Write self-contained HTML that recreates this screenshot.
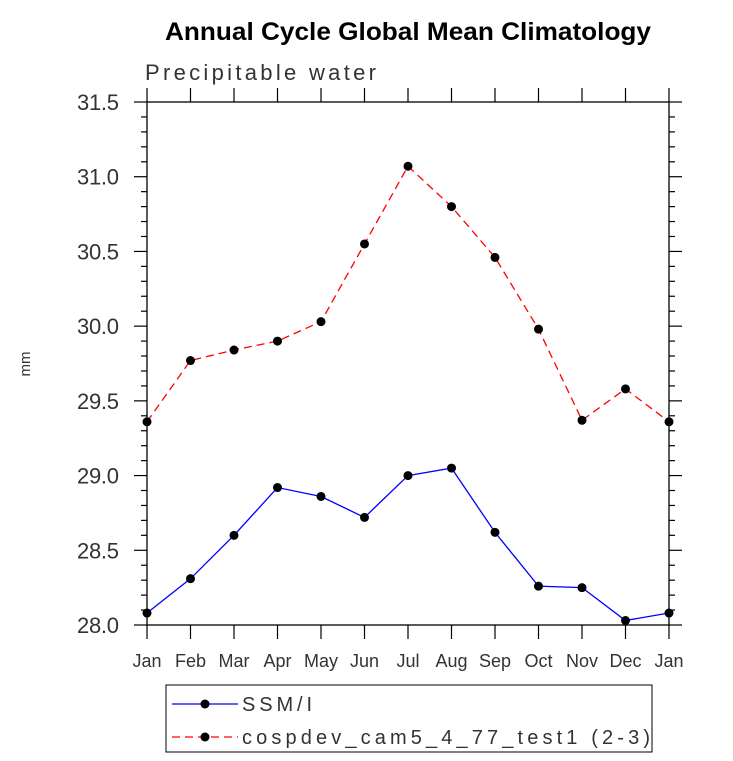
<!DOCTYPE html>
<html><head><meta charset="utf-8"><style>body{margin:0;background:#fff}svg{display:block}</style></head>
<body>
<svg id="chart" width="733" height="761" xmlns="http://www.w3.org/2000/svg" font-family="Liberation Sans, sans-serif">
<rect width="733" height="761" fill="#fff"/>
<text x="165" y="40" textLength="486" lengthAdjust="spacingAndGlyphs" font-weight="bold" font-size="25">Annual Cycle Global Mean Climatology</text>
<text x="145" y="80" textLength="231" lengthAdjust="spacing" font-size="22" fill="#333">Precipitable water</text>
<text x="30" y="364" font-size="15" fill="#333" transform="rotate(-90 30 364)" text-anchor="middle">mm</text>
<g id="axes"></g>
<g id="series"></g>
<g>
<rect x="166" y="685" width="486" height="67" fill="#fff" stroke="#000" stroke-width="1"/>
<line x1="172" y1="704" x2="238" y2="704" stroke="#0000ff" stroke-width="1.3"/>
<circle cx="205" cy="704" r="4.5" fill="#000"/>
<text x="242" y="711" textLength="70" lengthAdjust="spacing" font-size="20" fill="#333">SSM/I</text>
<line x1="172" y1="737" x2="238" y2="737" stroke="#ff0000" stroke-width="1.3" stroke-dasharray="8,5"/>
<circle cx="205" cy="737" r="4.5" fill="#000"/>
<text x="242" y="744" textLength="408" lengthAdjust="spacing" font-size="20" fill="#333">cospdev_cam5_4_77_test1 (2-3)</text>
</g>
</svg>
<script>
const months = ["Jan","Feb","Mar","Apr","May","Jun","Jul","Aug","Sep","Oct","Nov","Dec","Jan"];
const ssmiValues = [28.08,28.31,28.60,28.92,28.86,28.72,29.00,29.05,28.62,28.26,28.25,28.03,28.08];
const modelValues = [29.36,29.77,29.84,29.90,30.03,30.55,31.07,30.80,30.46,29.98,29.37,29.58,29.36];
const yTickLabels = ["28.0","28.5","29.0","29.5","30.0","30.5","31.0","31.5"];
const NS="http://www.w3.org/2000/svg";
const L=147,R=669,T=102,B=625,yMin=28,yMax=31.5;
const xs=i=>L+(R-L)*i/(months.length-1);
const ys=v=>B-(B-T)*(v-yMin)/(yMax-yMin);
function mk(tag,attrs,parent){const e=document.createElementNS(NS,tag);for(const k in attrs)e.setAttribute(k,attrs[k]);parent.appendChild(e);return e;}
const ax=document.getElementById('axes');
let f=mk('rect',{x:L,y:T,width:R-L,height:B-T,fill:'none',stroke:'#000','stroke-width':1.3},ax);


for(let k=0;k<=35;k++){const v=yMin+k*0.1;const y=ys(v);const major=k%5===0;const len=major?13:6;
 let t1=mk('line',{x1:L-len,y1:y,x2:L,y2:y,stroke:'#000','stroke-width':1.2},ax);
 
 
 let t2=mk('line',{x1:R,y1:y,x2:R+len,y2:y,stroke:'#000','stroke-width':1.2},ax);
 
 
}
yTickLabels.forEach(s=>{const y=ys(parseFloat(s));let t=mk('text',{x:119,y:y+8,'text-anchor':'end','font-size':22,fill:'#333',textLength:42,lengthAdjust:'spacing'},ax);t.textContent=s;
 
 });
months.forEach((m,i)=>{const x=xs(i);
 let a=mk('line',{x1:x,y1:B,x2:x,y2:B+14,stroke:'#000','stroke-width':1.2},ax);
 
 
 let b=mk('line',{x1:x,y1:T-14,x2:x,y2:T,stroke:'#000','stroke-width':1.2},ax);
 
 
 let t=mk('text',{x:x,y:667,'text-anchor':'middle','font-size':18,fill:'#333'},ax);t.textContent=m;
 
 });
const sg=document.getElementById('series');
function series(vals,color,dash,name){
 const pts=vals.map((v,i)=>xs(i)+','+ys(v)).join(' ');
 const attrs={points:pts,fill:'none',stroke:color,'stroke-width':1.3};if(dash)attrs['stroke-dasharray']=dash;
 let p=mk('polyline',attrs,sg);
 
 
 vals.forEach((v,i)=>{let c=mk('circle',{cx:xs(i),cy:ys(v),r:4.5,fill:'#000'},sg);
  
  });
}
series(ssmiValues,'#0000ff',null,'ssmi');
series(modelValues,'#ff0000','8,5','model');
</script>
</body></html>
